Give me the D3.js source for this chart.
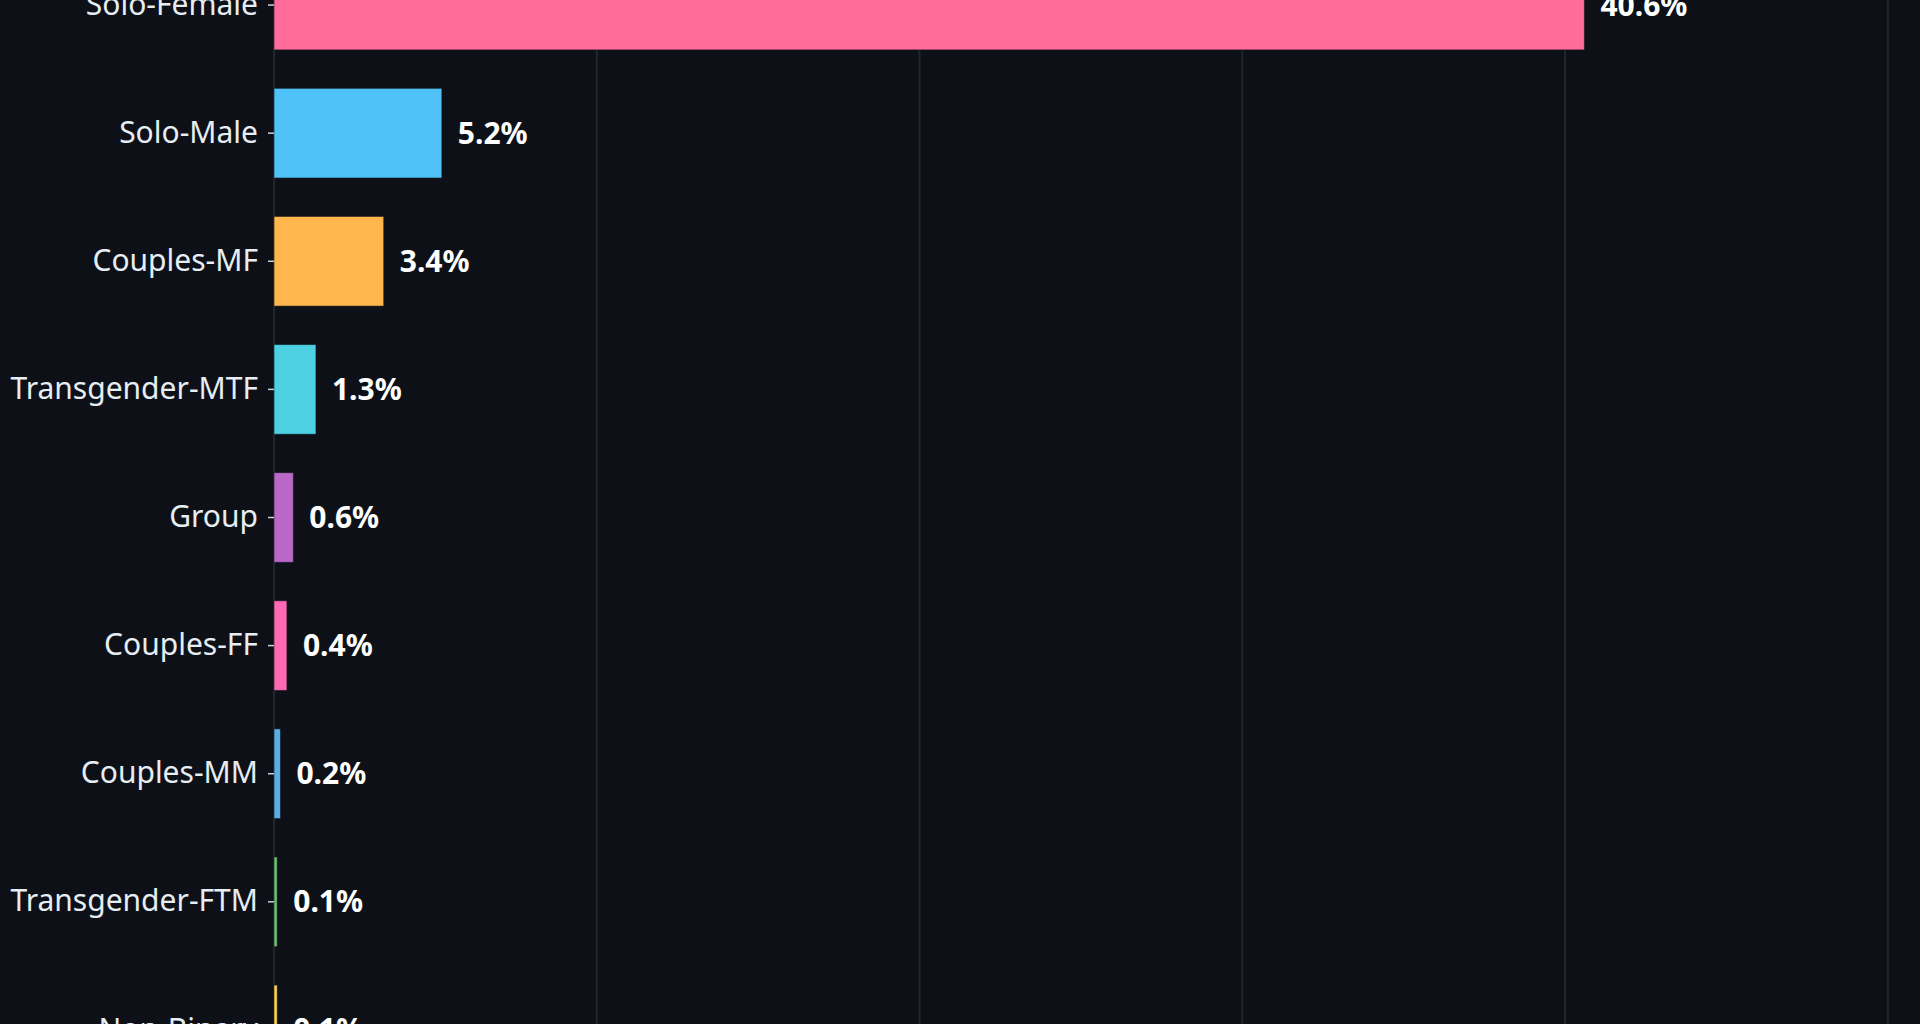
<!DOCTYPE html>
<html>
<head>
<meta charset="utf-8">
<script src="https://cdn.jsdelivr.net/npm/d3@7"></script>
<style>
    html, body { margin: 0; padding: 0; background: #0d1117; overflow: hidden; }
    svg { display: block; }
</style>
</head>
<body>
<svg id="chart"></svg>
<script>
const categories = [
    "Solo-Female", "Solo-Male", "Couples-MF", "Transgender-MTF", "Group",
    "Couples-FF", "Couples-MM", "Transgender-FTM", "Non-Binary"
];
const shares = [40.6, 5.2, 3.4, 1.3, 0.6, 0.4, 0.2, 0.1, 0.1];
const barColors = [
    "#ff6b9a", "#4fc3f7", "#ffb74d", "#4dd0e1", "#ba68c8",
    "#ff69b4", "#5dade2", "#6fc070", "#ffd54f"
];
const gridTicks = [0, 10, 20, 30, 40, 50];

const width = 1920;
const height = 1024;
// the plot runs past the top and bottom of the window
const margin = { top: -59, right: 8, bottom: -70, left: 274 };

const data = categories.map((name, i) => ({ name, value: shares[i], color: barColors[i] }));

const svg = d3.select("#chart")
    .attr("width", width)
    .attr("height", height);

svg.append("rect")
    .attr("width", width)
    .attr("height", height)
    .attr("fill", "#0d1117");

const x = d3.scaleLinear()
    .domain([0, d3.max(shares) * 1.25])
    .range([margin.left, width - margin.right]);

const y = d3.scaleBand()
    .domain(categories)
    .range([margin.top, height - margin.bottom])
    .paddingInner(0.3)
    .paddingOuter(0.15);

// vertical grid
svg.append("g")
    .selectAll("line")
    .data(gridTicks)
    .enter()
    .append("line")
    .attr("x1", d => x(d))
    .attr("x2", d => x(d))
    .attr("y1", 0)
    .attr("y2", height)
    .attr("stroke", "#21262d")
    .attr("stroke-width", 2);

svg.append("g")
    .selectAll("rect")
    .data(data)
    .enter()
    .append("rect")
    .attr("x", x(0))
    .attr("y", d => y(d.name))
    .attr("width", d => x(d.value) - x(0))
    .attr("height", y.bandwidth())
    .attr("fill", d => d.color)
    .attr("stroke", "rgba(13,17,23,0.55)")
    .attr("stroke-width", 1);

const yAxis = svg.append("g")
    .attr("transform", `translate(${margin.left},0)`)
    .call(d3.axisLeft(y).tickSize(6).tickPadding(10));

yAxis.select(".domain").remove();
yAxis.selectAll(".tick line")
    .attr("stroke", "#c9d1d9")
    .attr("stroke-width", 1.5);
yAxis.selectAll(".tick text")
    .attr("fill", "#e6edf3")
    .style("font-family", "'Noto Sans', 'Open Sans', sans-serif")
    .style("font-size", "30px");

svg.append("g")
    .selectAll("text")
    .data(data)
    .enter()
    .append("text")
    .attr("x", d => x(d.value) + 16)
    .attr("y", d => y(d.name) + y.bandwidth() / 2)
    .attr("dy", "0.35em")
    .attr("fill", "#ffffff")
    .style("font-family", "'Noto Sans', 'Open Sans', sans-serif")
    .style("font-size", "30px")
    .style("font-weight", 700)
    .text(d => `${d.value.toFixed(1)}%`);
</script>
</body>
</html>
